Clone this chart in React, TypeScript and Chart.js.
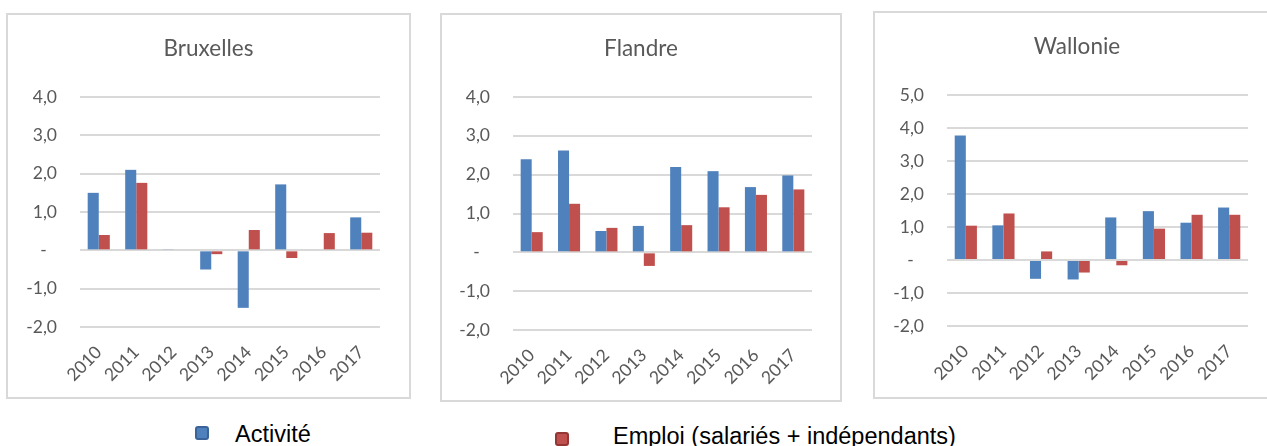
import React, { useEffect, useRef } from 'react';
import { Chart, registerables } from 'chart.js';

Chart.register(...registerables);

const years = ['2010', '2011', '2012', '2013', '2014', '2015', '2016', '2017'];
const seriesLabels = ['Activité', 'Emploi (salariés + indépendants)'];

const bxlActivite = [1.5, 2.1, 0.03, -0.5, -1.5, 1.72, 0, 0.86];
const bxlEmploi = [0.4, 1.76, 0, -0.1, 0.53, -0.2, 0.45, 0.46];
const flaActivite = [2.4, 2.62, 0.55, 0.68, 2.2, 2.09, 1.68, 1.98];
const flaEmploi = [0.52, 1.25, 0.63, -0.35, 0.7, 1.16, 1.48, 1.62];
const walActivite = [3.77, 1.05, -0.57, -0.59, 1.29, 1.48, 1.13, 1.59];
const walEmploi = [1.04, 1.41, 0.26, -0.38, -0.16, 0.95, 1.37, 1.37];

const BLUE = '#4F81BD';
const RED = '#C0504D';
const GRID = '#D9D9D9';
const TEXT = '#595959';

type PanelProps = {
  left: number; top: number; width: number; height: number;
  title: string; activite: number[]; emploi: number[];
  yMin: number; yMax: number;
  yW: number; rW: number; topH: number; bottomH: number;
};

function fmt(v: number) {
  if (Math.abs(v) < 1e-9) return '-\u2007';
  return v.toFixed(1).replace('.', ',');
}

function Panel(p: PanelProps) {
  const ref = useRef<HTMLCanvasElement | null>(null);
  const cw = p.width - 4;
  const ch = p.height - 4;
  useEffect(() => {
    if (!ref.current) return;
    const titleFont = 22.5;
    const lh = titleFont * 1.2;
    const padTop = 20;
    const chart = new Chart(ref.current, {
      type: 'bar',
      data: {
        labels: years,
        datasets: [
          { label: seriesLabels[0], data: p.activite, backgroundColor: BLUE, borderWidth: 0, categoryPercentage: 0.59, barPercentage: 1.0 },
          { label: seriesLabels[1], data: p.emploi, backgroundColor: RED, borderWidth: 0, categoryPercentage: 0.59, barPercentage: 1.0 },
        ],
      },
      options: {
        responsive: false,
        animation: false,
        layout: { padding: 0 },
        plugins: {
          legend: { display: false },
          tooltip: { enabled: false },
          title: {
            display: true,
            text: p.title,
            color: TEXT,
            font: { family: 'Lato', size: titleFont, weight: 'normal' },
            padding: { top: padTop, bottom: p.topH - padTop - lh },
          },
        },
        scales: {
          x: {
            grid: { display: false },
            border: { display: false },
            ticks: {
              color: TEXT,
              font: { family: 'Lato', size: 17.5 },
              minRotation: 45,
              maxRotation: 45,
              padding: 7,
              autoSkip: false,
            },
            afterFit: (s: any) => { s.height = p.bottomH; },
          },
          y: {
            min: p.yMin,
            max: p.yMax,
            position: 'left',
            grid: { color: GRID, lineWidth: 2, drawTicks: false },
            border: { display: false },
            ticks: {
              stepSize: 1,
              color: TEXT,
              padding: 23,
              font: { family: 'Lato', size: 17.5 },
              callback: (v: any) => fmt(Number(v)),
            },
            afterFit: (s: any) => { s.width = p.yW; },
          },
          y2: {
            position: 'right',
            display: true,
            min: 0,
            max: 1,
            grid: { display: false },
            border: { display: false },
            ticks: { display: false },
            afterFit: (s: any) => { s.width = p.rW; },
          },
        },
      },
    } as any);
    return () => chart.destroy();
  }, []);
  return (
    <div
      style={{
        position: 'absolute',
        left: p.left,
        top: p.top,
        width: p.width,
        height: p.height,
        boxSizing: 'border-box',
        border: `2px solid ${GRID}`,
        background: '#fff',
      }}
    >
      <canvas ref={ref} width={cw} height={ch} style={{ display: 'block', width: cw, height: ch }} />
    </div>
  );
}

export default function App() {
  return (
    <div
      style={{
        position: 'absolute',
        left: 0,
        top: 0,
        width: 1267,
        height: 446,
        overflow: 'hidden',
        background: '#fff',
      }}
    >
      <Panel left={6} top={13} width={405} height={386} title="Bruxelles" activite={bxlActivite} emploi={bxlEmploi}
        yMin={-2} yMax={4} yW={72} rW={29} topH={82} bottomH={70} />
      <Panel left={440} top={13} width={402} height={389} title="Flandre" activite={flaActivite} emploi={flaEmploi}
        yMin={-2} yMax={4} yW={71} rW={28} topH={82} bottomH={70} />
      <Panel left={873} top={11} width={408} height={388} title="Wallonie" activite={walActivite} emploi={walEmploi}
        yMin={-2} yMax={5} yW={72} rW={31} topH={82} bottomH={71} />

      <div style={{ position: 'absolute', left: 195, top: 426, width: 14, height: 14, boxSizing: 'border-box', background: BLUE, border: '2px solid #3A639A', borderRadius: 3 }} />
      <div style={{ position: 'absolute', left: 235, top: 421, fontFamily: '"Liberation Sans", Arial, sans-serif', fontSize: 23.5, color: '#000', whiteSpace: 'nowrap', lineHeight: 'normal' }}>
        {seriesLabels[0]}
      </div>
      <div style={{ position: 'absolute', left: 555, top: 432, width: 14, height: 14, boxSizing: 'border-box', background: RED, border: '2px solid #943634', borderRadius: 3 }} />
      <div style={{ position: 'absolute', left: 613, top: 423, fontFamily: '"Liberation Sans", Arial, sans-serif', fontSize: 23.5, color: '#000', whiteSpace: 'nowrap', lineHeight: 'normal' }}>
        {seriesLabels[1]}
      </div>
    </div>
  );
}
